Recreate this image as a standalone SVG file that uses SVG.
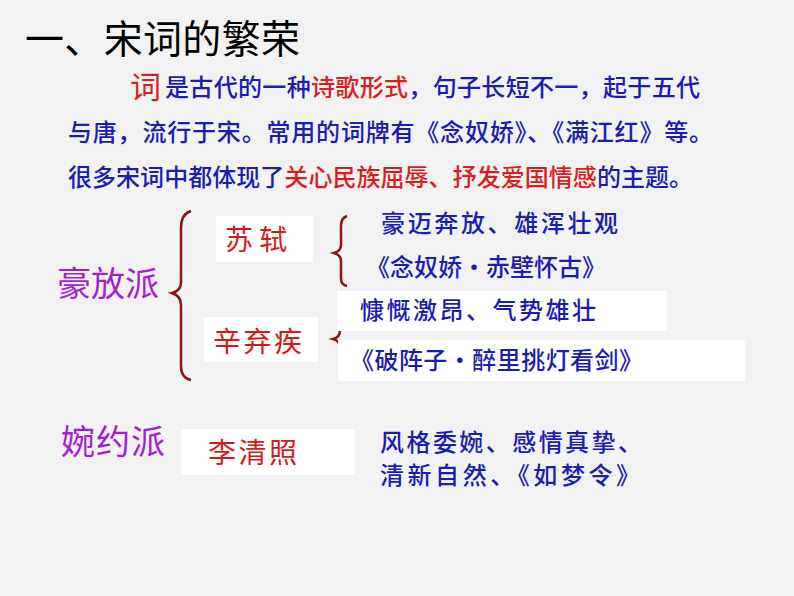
<svg xmlns="http://www.w3.org/2000/svg" width="794" height="596" viewBox="0 0 794 596">
<style>
text{font-family:"Noto Sans CJK SC","Noto Sans",sans-serif;}
.b{fill:#1c1cb0;font-size:24px;font-weight:500;}
.r{fill:#d81e1e;}
.p{fill:#a31fd2;font-size:34px;}
.n{fill:#d21a1a;font-size:28px;}
.box{fill:#ffffff;}
.br{fill:none;stroke:#8b1414;stroke-width:2.5;}
</style>
<rect width="794" height="596" fill="#f2f2f2"/>
<text id="title" x="25" y="53" font-size="39" fill="#000" textLength="275" lengthAdjust="spacing">一、宋词的繁荣</text>
<g id="intro">
<text x="130" y="98" font-size="31" class="r" fill="#d81e1e">词</text>
<text x="165" y="96" class="b" textLength="535" lengthAdjust="spacing">是古代的一种<tspan class="r">诗歌形式</tspan>，句子长短不一，起于五代</text>
<text x="68" y="141" class="b" textLength="645" lengthAdjust="spacing">与唐，流行于宋。常用的词牌有《念奴娇》、《满江红》等。</text>
<text x="68" y="186" class="b" textLength="625" lengthAdjust="spacing">很多宋词中都体现了<tspan class="r">关心民族屈辱、抒发爱国情感</tspan>的主题。</text>
</g>
<g id="connectors">
<path class="br" d="M191,211 Q181,214 181,228 L181,282 Q181,291 172,293 Q181,296 181,305 L181,366 Q181,378 191,380"/>
<path class="br" d="M347,216 Q341,218 341,226 L341,245 Q341,251 334,253 Q341,255 341,261 L341,278 Q341,285 347,286"/>
<path class="br" d="M346,302 Q340,304 340,312 L340,331 Q340,337 333,339 Q340,341 340,347 L340,366 Q340,373 346,374"/>
</g>
<g id="haofang"><text x="57" y="296" class="p">豪放派</text></g>
<g id="sushi">
<rect class="box" x="216" y="216" width="97" height="46"/>
<text x="225" y="250" class="n" font-size="27">苏 轼</text>
</g>
<g id="sushi-1"><text x="381" y="232" class="b" font-size="26" textLength="237" lengthAdjust="spacing">豪迈奔放、雄浑壮观</text></g>
<g id="sushi-2"><text x="366" y="276" class="b" font-size="26" textLength="240" lengthAdjust="spacing">《念奴娇•赤壁怀古》</text></g>
<g id="xin">
<rect class="box" x="204" y="317" width="114" height="45"/>
<text x="213" y="352" class="n" font-size="29" textLength="89" lengthAdjust="spacing">辛弃疾</text>
</g>
<g id="xin-1">
<rect class="box" x="337" y="291" width="330" height="40"/>
<text x="360" y="319" class="b" font-size="26" textLength="236" lengthAdjust="spacing">慷慨激昂、气势雄壮</text>
</g>
<g id="xin-2">
<rect class="box" x="338" y="340" width="407" height="41"/>
<text x="350" y="369" class="b" font-size="26" textLength="293" lengthAdjust="spacing">《破阵子•醉里挑灯看剑》</text>
</g>
<g id="wanyue"><text x="61" y="454" class="p" textLength="104" lengthAdjust="spacing">婉约派</text></g>
<g id="li">
<rect class="box" x="181" y="429" width="174" height="46"/>
<text x="208" y="463" class="n" font-size="29" textLength="89" lengthAdjust="spacing">李清照</text>
</g>
<g id="li-desc">
<text x="380" y="451" class="b" font-size="26" textLength="262" lengthAdjust="spacing">风格委婉、感情真挚、</text>
<text x="380" y="484" class="b" font-size="26" textLength="260" lengthAdjust="spacing">清新自然、《如梦令》</text>
</g>
</svg>
